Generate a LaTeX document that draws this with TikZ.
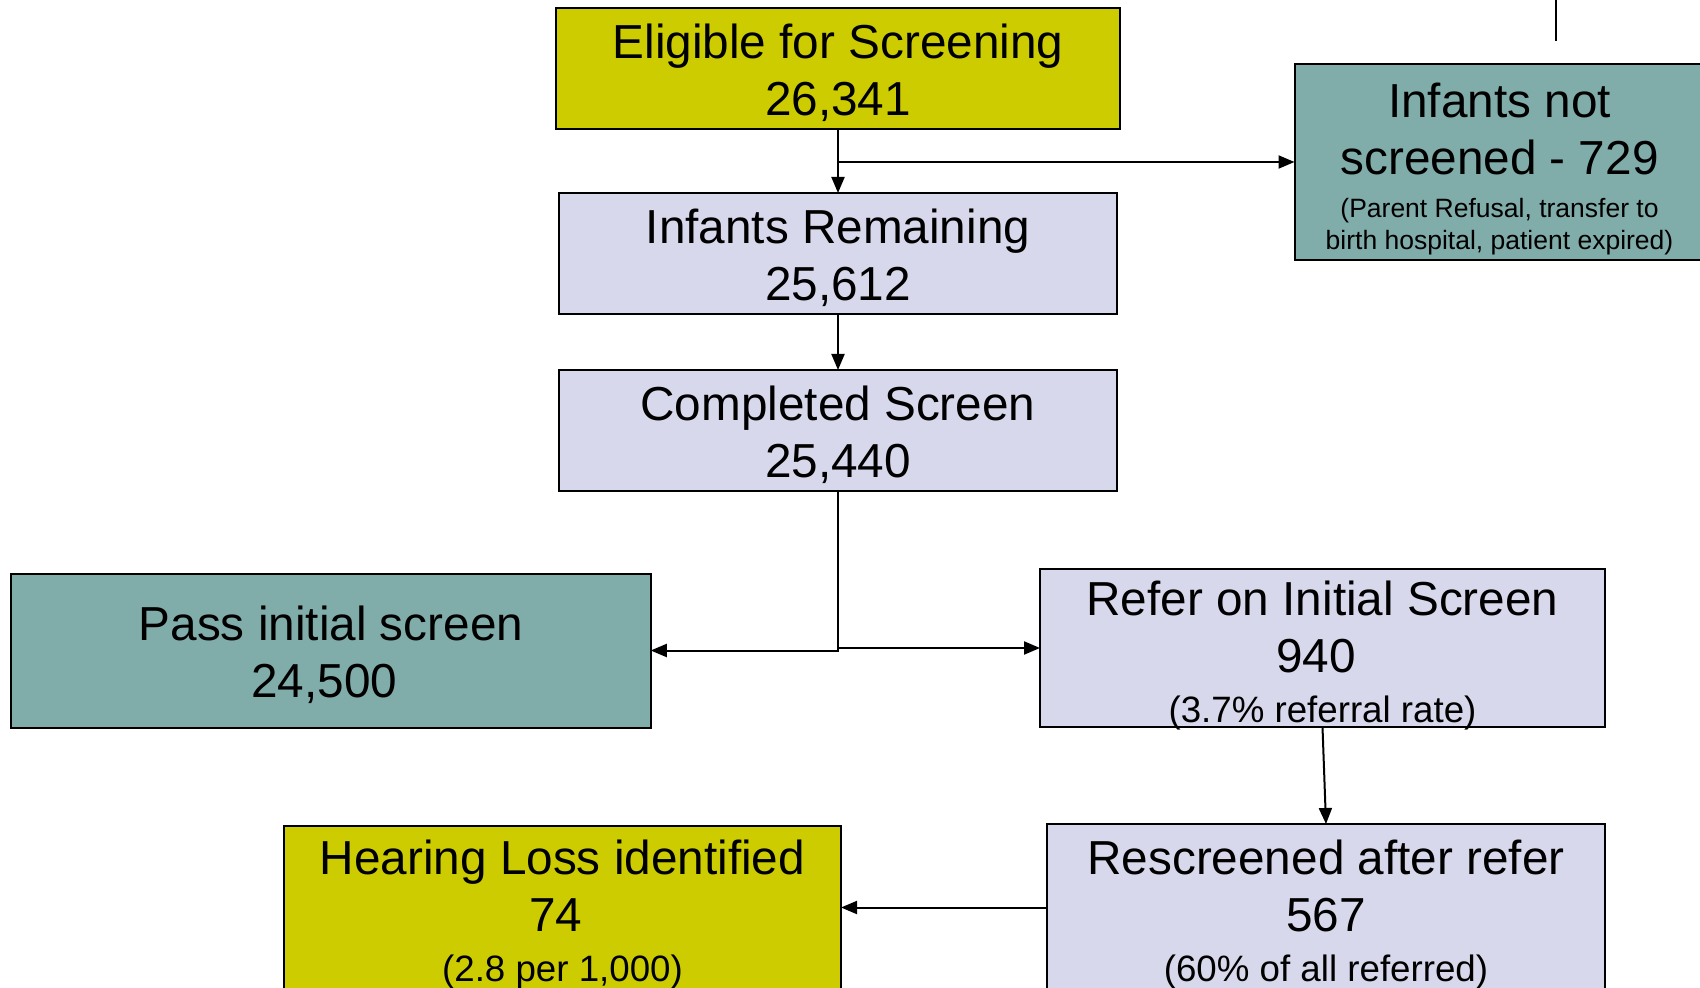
\documentclass[tikz,border=0pt]{standalone}
\usepackage{fontspec}
\setmainfont{Liberation Sans}
\usetikzlibrary{arrows.meta}
\definecolor{yelbox}{RGB}{204,204,0}
\definecolor{tealbox}{RGB}{128,172,170}
\definecolor{lavbox}{RGB}{216,216,236}
\newcommand{\boxbig}{\fontsize{23.85pt}{28.75pt}\selectfont}
\newcommand{\boxmed}{\fontsize{18.35pt}{22pt}\selectfont}
\newcommand{\boxsmall}{\fontsize{13.25pt}{16.3pt}\selectfont}
\newcommand{\tsp}{\rule{6.6pt}{0pt}}
\tikzset{
  box/.style={draw=black, line width=1pt, inner sep=0pt, outer sep=0pt},
  txt/.style={inner sep=0pt, outer sep=0pt, align=center, font=\boxbig},
  conn/.style={line width=1pt, -{Triangle[length=8pt,width=6.5pt]}},
  plainline/.style={line width=1pt},
}
\begin{document}
\begin{tikzpicture}[x=0.5pt,y=-0.5pt]
\useasboundingbox (0,0) rectangle (1700,988);
\clip (0,0) rectangle (1700,988);
\fill[white] (0,0) rectangle (1700,988);

% boxes
\node[box, fill=yelbox, minimum width=282pt, minimum height=60.75pt] (elig) at (838,68.3) {};
\node[box, fill=lavbox, minimum width=279pt, minimum height=60.5pt] (remain) at (838,253.5) {};
\node[box, fill=lavbox, minimum width=279pt, minimum height=60.5pt] (comp) at (838,430.5) {};
\node[box, fill=tealbox, minimum width=319.75pt, minimum height=77pt] (pass) at (331,650.5) {};
\node[box, fill=lavbox, minimum width=282.5pt, minimum height=79.25pt] (refer) at (1322.5,648) {};
\node[box, fill=lavbox, minimum width=279pt, minimum height=83.5pt] (resc) at (1326,907.5) {};
\node[box, fill=yelbox, minimum width=278.5pt, minimum height=81.5pt] (hear) at (562.5,907.5) {};
\node[box, fill=tealbox, minimum width=205pt, minimum height=98pt] (notscr) at (1499.5,162) {};

% texts
\node[txt] (eligT) at ([yshift=-2.2pt]elig.center) {Eligible for Screening\\26,341};
\node[txt] (remainT) at ([yshift=-2.2pt]remain.center) {Infants Remaining\\25,612};
\node[txt] (compT) at ([yshift=-2.2pt]comp.center) {Completed Screen\\25,440};
\node[txt] (passT) at ([yshift=-2.2pt]pass.center) {Pass initial screen\\24,500\tsp};
\node[txt] (referT) at ([yshift=-3.8pt]refer.center) {Refer on Initial Screen\\940\tsp\\[-3.8pt]{\boxmed (3.7\% referral rate)}};
\node[txt] (rescT) at ([yshift=-3.4pt]resc.center) {Rescreened after refer\\567\\[-4.2pt]{\boxmed (60\% of all referred)}};
\node[txt] (hearT) at ([yshift=-3.4pt]hear.center) {Hearing Loss identified\\74\tsp\\[-4.2pt]{\boxmed (2.8 per 1,000)}};
\node[txt] (notscrT) at ([yshift=-3.5pt]notscr.center) {Infants not\\screened - 729\\[-7.6pt]{\boxsmall (Parent Refusal, transfer to}\\[-12.45pt]{\boxsmall birth hospital, patient expired)}};

\coordinate (topa) at (1556,-5);
\coordinate (topb) at (1556,41);

% connectors
\draw[conn] (elig.south) -- (remain.north);
\draw[conn] (elig.south |- notscr.west) -- (notscr.west);
\draw[conn] (remain.south) -- (comp.north);
\draw[conn] (comp.south) |- (pass.east);
\draw[conn] (comp.south) |- (refer.west);
\draw[conn] (refer.south) -- (resc.north);
\draw[conn] (resc.west) -- (hear.east);
\draw[plainline] (topa) -- (topb);
\end{tikzpicture}
\end{document}
